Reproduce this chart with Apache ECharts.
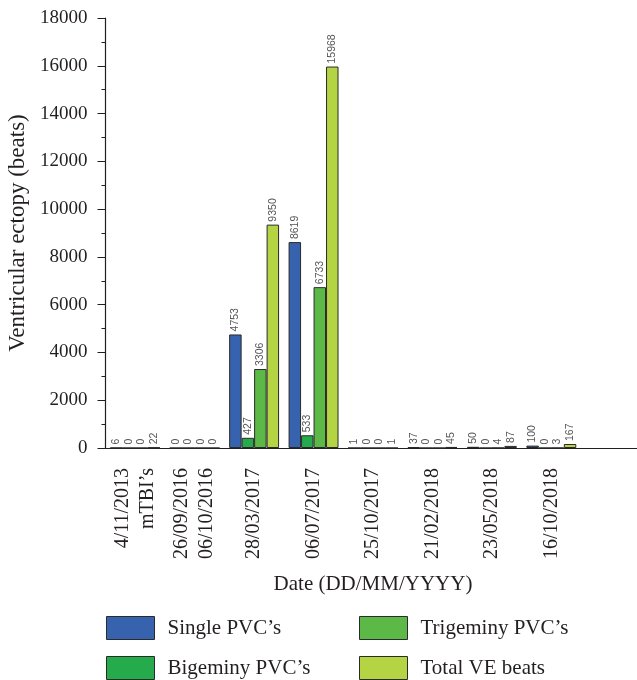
<!DOCTYPE html>
<html>
<head>
<meta charset="utf-8">
<script src="https://cdn.jsdelivr.net/npm/echarts@6/dist/echarts.min.js"></script>
<style>
html,body{margin:0;padding:0;background:#fff;}
#chart{width:637px;height:680px;}
</style>
</head>
<body>
<div id="chart"></div>
<script>
const categories = ['4/11/2013\nmTBI\u2019s', '26/09/2016\n06/10/2016', '28/03/2017', '06/07/2017', '25/10/2017', '21/02/2018', '23/05/2018', '16/10/2018', ''];
const seriesNames = ['Single PVC\u2019s', 'Bigeminy PVC\u2019s', 'Trigeminy PVC\u2019s', 'Total VE beats'];
const singlePVC = [6, 0, 4753, 8619, 1, 37, 50, 100];
const bigeminyPVC = [0, 0, 427, 533, 0, 0, 0, 0];
const trigeminyPVC = [0, 0, 3306, 6733, 0, 0, 4, 3];
const totalVE = [22, 0, 9350, 15968, 1, 45, 87, 167];
const colors = ['#3762ae', '#25ab4c', '#5cb947', '#b4d443'];
const yTicks = { min: 0, max: 18000, interval: 2000 };

const serif = '"Liberation Serif", "DejaVu Serif", serif';
const dataSets = [singlePVC, bigeminyPVC, trigeminyPVC, totalVE];

const chart = echarts.init(document.getElementById('chart'), null, {renderer: 'canvas'});
const series = seriesNames.map((name, i) => ({
  name: name,
  type: 'bar',
  data: dataSets[i],
  barGap: '0%',
  barCategoryGap: '16%',
  itemStyle: { color: colors[i], borderColor: '#2a2a2a', borderWidth: 1 },
  label: {
    show: true,
    position: 'top',
    rotate: 90,
    align: 'left',
    verticalAlign: 'middle',
    distance: 3,
    fontFamily: '"Liberation Sans", Arial, sans-serif',
    fontSize: 10.5,
    color: '#555'
  },
  emphasis: { disabled: true }
}));

const legendCommon = {
  orient: 'vertical',
  itemWidth: 48,
  itemHeight: 23,
  itemGap: 16,
  icon: 'rect',
  textStyle: { fontFamily: serif, fontSize: 21, color: '#231f20', padding: [0, 0, 0, 8] },
  itemStyle: { borderColor: '#2a2a2a', borderWidth: 1 },
  selectedMode: false,
  padding: 0
};

chart.setOption({
  animation: false,
  backgroundColor: '#fff',
  grid: { left: 105.5, top: 18, width: 535, height: 430, containLabel: false, outerBoundsMode: 'none' },
  legend: [
    Object.assign({}, legendCommon, { left: 106, top: 616, data: [seriesNames[0], seriesNames[1]] }),
    Object.assign({}, legendCommon, { left: 359, top: 616, data: [seriesNames[2], seriesNames[3]] })
  ],
  xAxis: {
    type: 'category',
    data: categories,
    boundaryGap: true,
    name: 'Date (DD/MM/YYYY)',
    nameLocation: 'middle',
    nameGap: 126,
    nameTextStyle: { fontFamily: serif, fontSize: 21, color: '#231f20' },
    axisLine: { lineStyle: { color: '#231f20', width: 1.2 } },
    axisTick: { alignWithLabel: true, length: 7, lineStyle: { color: '#231f20' } },
    axisLabel: {
      interval: 0,
      rotate: 90,
      margin: 20,
      fontFamily: serif,
      fontSize: 20,
      lineHeight: 25,
      color: '#231f20'
    },
    splitLine: { show: false }
  },
  yAxis: {
    type: 'value',
    min: yTicks.min,
    max: yTicks.max,
    interval: yTicks.interval,
    name: 'Ventricular ectopy (beats)',
    nameLocation: 'middle',
    nameGap: 76,
    nameTextStyle: { fontFamily: serif, fontSize: 23, color: '#231f20' },
    axisLine: { show: true, lineStyle: { color: '#231f20', width: 1.2 } },
    axisTick: { show: true, length: 8, lineStyle: { color: '#231f20' } },
    minorTick: { show: true, splitNumber: 2, length: 4, lineStyle: { color: '#231f20' } },
    axisLabel: { fontFamily: serif, fontSize: 19, color: '#231f20', margin: 18, formatter: v => String(v) },
    splitLine: { show: false }
  },
  series: series
});
</script>
</body>
</html>
